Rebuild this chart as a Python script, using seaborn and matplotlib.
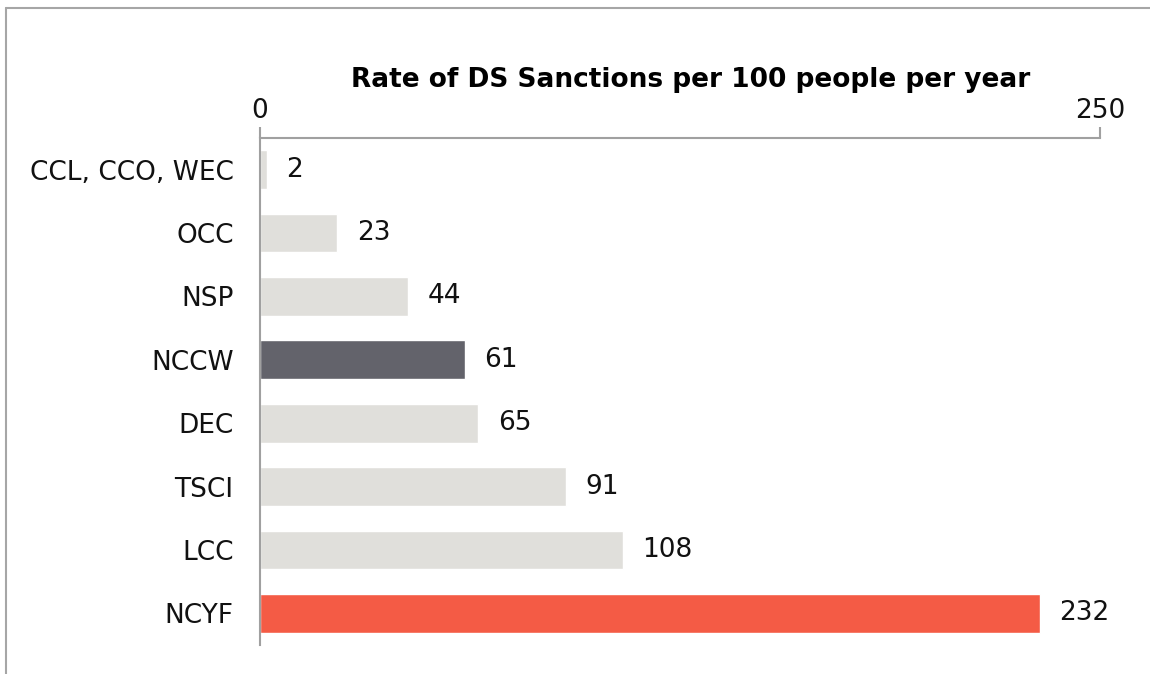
import numpy as np
import pandas as pd
import matplotlib.pyplot as plt
import seaborn as sns
from matplotlib.lines import Line2D

# chart data
categories = ["CCL, CCO, WEC", "OCC", "NSP", "NCCW", "DEC", "TSCI", "LCC", "NCYF"]
rates = [2, 23, 44, 61, 65, 91, 108, 232]
bar_colors = ["#E0DFDB", "#E0DFDB", "#E0DFDB", "#63636B",
              "#E0DFDB", "#E0DFDB", "#E0DFDB", "#F45B45"]

TITLE = "Rate of DS Sanctions per 100 people per year"
X_TICKS = [0, 250]

df = pd.DataFrame({"category": categories, "rate": rates})

sns.set_theme(style="white")
plt.rcParams["font.family"] = ["DejaVu Sans"]

fig = plt.figure(figsize=(11.5, 6.74), dpi=100)
ax = fig.add_axes([260 / 1150, 1 - 645 / 674, 840 / 1150, (645 - 138) / 674])

sns.barplot(data=df, x="rate", y="category", hue="category",
            palette=dict(zip(categories, bar_colors)), legend=False,
            width=0.61, saturation=1, ax=ax)

for cont in ax.containers:
    ax.bar_label(cont, padding=14, fontsize=19, color="#111111")

ax.set_xlim(0, 250)
ax.set_ylim(7.5, -0.5)
ax.xaxis.tick_top()
ax.set_xticks(X_TICKS)
ax.set_xlabel("")
ax.set_ylabel("")
ax.tick_params(axis="x", top=True, bottom=False, length=8, width=1.5,
               color="#A0A0A0", labelsize=19, pad=2, labelcolor="#111111")
ax.tick_params(axis="y", left=False, length=0, pad=19, labelsize=19,
               labelcolor="#111111")
for side in ["right", "bottom"]:
    ax.spines[side].set_visible(False)
for side in ["top", "left"]:
    ax.spines[side].set_color("#A0A0A0")
    ax.spines[side].set_linewidth(1.5)

fig.text(691 / 1150, 1 - 80 / 674, TITLE, ha="center", va="center",
         fontsize=19, fontweight="bold", color="#000000")

# outer frame (cropped chart border)
fig.add_artist(Line2D([6 / 1150, 6 / 1150], [0, 1 - 8 / 674], color="#A6A6A6", lw=1.5))
fig.add_artist(Line2D([6 / 1150, 1], [1 - 8 / 674, 1 - 8 / 674], color="#A6A6A6", lw=1.5))

fig.savefig("out.png", dpi=100)
